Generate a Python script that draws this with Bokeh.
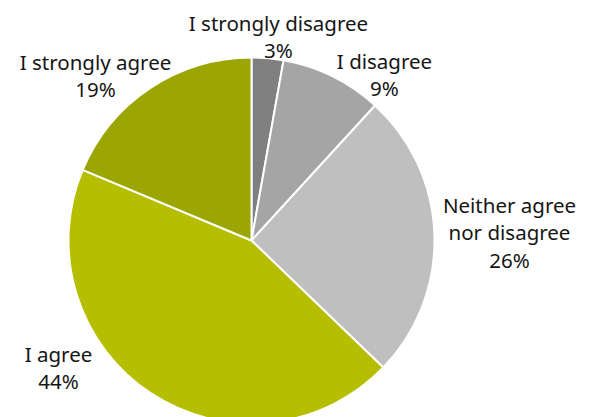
import numpy as np
from bokeh.plotting import figure
from bokeh.models import ColumnDataSource
from bokeh.core.properties import value
from bokeh.embed import file_html
from bokeh.resources import INLINE

# Data
categories = ["I strongly disagree", "I disagree", "Neither agree\nnor disagree", "I agree", "I strongly agree"]
shares = [2.8, 9.0, 25.4, 44.1, 18.7]
pct_labels = ["3%", "9%", "26%", "44%", "19%"]

# Style / layout
colors = ["#808080", "#a5a5a5", "#bfbfbf", "#b5be00", "#9ba603"]
label_x = [278, 384, 509, 58, 95]
label_y_img = [36, 74, 232, 367, 75]

W, H = 590, 417
cx, cy_img, R = 251, 240, 183

p = figure(width=W, height=H, x_range=(0, W), y_range=(417 - H, 417),
           output_backend="svg", toolbar_location=None, min_border=0)
p.axis.visible = False
p.grid.visible = False
p.outline_line_color = None
p.background_fill_color = "white"
p.border_fill_color = "white"

frac = np.array(shares) / np.sum(shares)
ends = np.pi / 2 - 2 * np.pi * np.cumsum(frac)
starts = np.concatenate([[np.pi / 2], ends[:-1]])

src = ColumnDataSource(dict(start=starts, end=ends, color=colors,
                            x=[cx] * 5, y=[417 - cy_img] * 5))
p.wedge(x="x", y="y", radius=R, start_angle="start", end_angle="end",
        direction="clock", fill_color="color", line_color="white", line_width=2, source=src)

texts = [c + "\n" + t for c, t in zip(categories, pct_labels)]
tsrc = ColumnDataSource(dict(x=label_x, y=[417 - v for v in label_y_img], text=texts))
p.text(x="x", y="y", text="text", source=tsrc, text_align="center", text_baseline="middle",
       text_font=value("Noto Sans"), text_font_size="20.5px", text_color="#151515",
       text_line_height=0.98)

open("out.html", "w").write(file_html(p, INLINE))
